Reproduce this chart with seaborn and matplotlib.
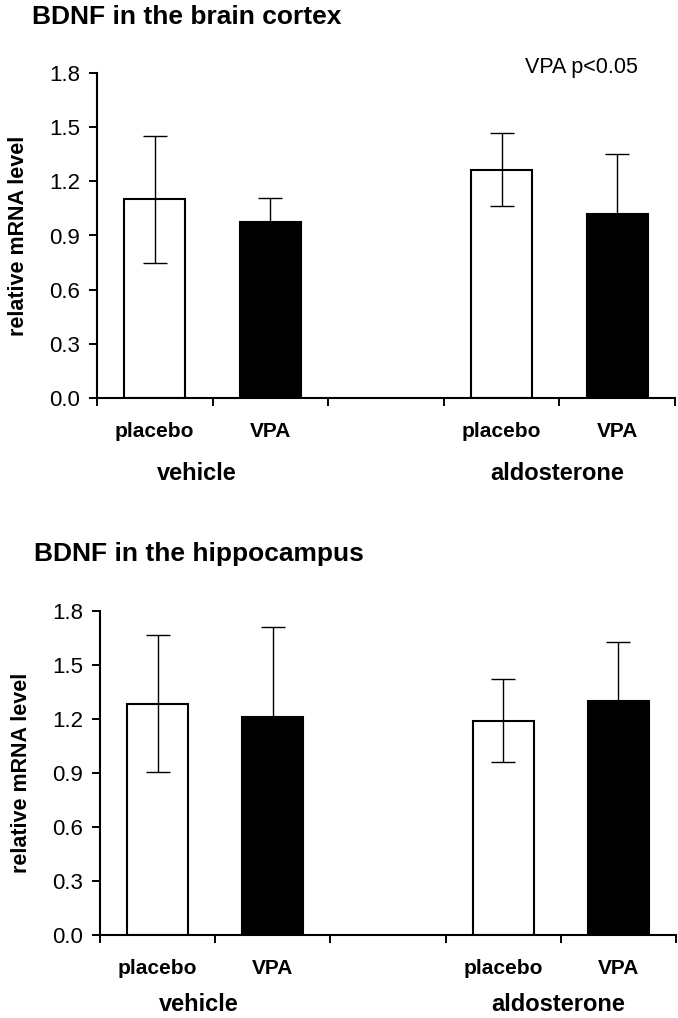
import matplotlib
matplotlib.use("Agg")
import matplotlib.pyplot as plt
import seaborn as sns
import pandas as pd

# ---- data ----
conditions = ["vehicle_placebo", "vehicle_VPA", "gap", "aldosterone_placebo", "aldosterone_VPA"]
tick_labels = ["placebo", "VPA", "", "placebo", "VPA"]
bar_conditions = ["vehicle_placebo", "vehicle_VPA", "aldosterone_placebo", "aldosterone_VPA"]
bar_colors = ["white", "black", "white", "black"]
group_labels = ["vehicle", "aldosterone"]
group_positions = [0.36, 3.48]

cortex_mean = [1.10, 0.975, 1.265, 1.02]
cortex_err = [0.35, 0.13, 0.20, 0.33]
hippo_mean = [1.285, 1.21, 1.19, 1.30]
hippo_err = [0.38, 0.50, 0.23, 0.33]

yticks = [0.0, 0.3, 0.6, 0.9, 1.2, 1.5, 1.8]
titles = ["BDNF in the brain cortex", "BDNF in the hippocampus"]
ylabel = "relative mRNA level"
annotation = "VPA p<0.05"

# ---- style ----
sns.set_theme(style="ticks")
plt.rcParams["font.family"] = ["Liberation Sans", "DejaVu Sans"]
plt.rcParams["text.color"] = "black"
plt.rcParams["axes.labelcolor"] = "black"
plt.rcParams["xtick.color"] = "black"
plt.rcParams["ytick.color"] = "black"

W, H = 678, 1018
fig = plt.figure(figsize=(W / 100, H / 100), dpi=100)


def px_axes(x0, x1, ytop, ybot):
    return fig.add_axes([x0 / W, 1 - ybot / H, (x1 - x0) / W, (ybot - ytop) / H])


ax_top = px_axes(97, 675, 73, 398)
ax_bot = px_axes(100, 676, 611, 935)

palette = dict(zip(bar_conditions, bar_colors))


def draw_panel(ax, means, errs, group_offset):
    df = pd.DataFrame({"cond": bar_conditions, "value": means})
    sns.barplot(data=df, x="cond", y="value", order=conditions, hue="cond",
                palette=palette, width=0.53, edgecolor="black", linewidth=1.5,
                saturation=1, legend=False, errorbar=None, ax=ax)
    pos = [conditions.index(c) for c in bar_conditions]
    ax.errorbar(pos, means, yerr=errs, fmt="none", ecolor="black",
                elinewidth=1.0, capsize=8.5, capthick=1.0, zorder=5)
    ax.set_xlim(-0.5, len(conditions) - 0.5)
    ax.set_ylim(0, 1.8)
    ax.set_yticks(yticks)
    ax.set_yticklabels([f"{v:.1f}" for v in yticks])
    ax.set_xticks(range(len(conditions)))
    ax.set_xticklabels(tick_labels, fontsize=15, fontweight="bold")
    ax.set_xticks([i - 0.5 for i in range(len(conditions) + 1)], minor=True)
    ax.tick_params(axis="x", which="major", length=0, pad=17)
    ax.tick_params(axis="x", which="minor", length=6, width=1.4, direction="out")
    ax.tick_params(axis="y", length=6, width=1.4, direction="out", labelsize=16, pad=6)
    for s in ["top", "right"]:
        ax.spines[s].set_visible(False)
    for s in ["left", "bottom"]:
        ax.spines[s].set_linewidth(1.5)
        ax.spines[s].set_color("black")
    ax.set_xlabel("")
    ax.set_ylabel(ylabel, fontsize=15.5, fontweight="bold")
    ax.yaxis.set_label_coords(-0.118, 0.5)
    for lab, gx in zip(group_labels, group_positions):
        ax.annotate(lab, xy=(gx, 0), xycoords=("data", "axes fraction"),
                    xytext=(0, group_offset), textcoords="offset points",
                    ha="center", va="baseline", fontsize=17, fontweight="bold")


draw_panel(ax_top, cortex_mean, cortex_err, -59)
draw_panel(ax_bot, hippo_mean, hippo_err, -55)

ax_top.text(0.936, 1.018, annotation, transform=ax_top.transAxes,
            ha="right", va="center", fontsize=15.5)

fig.text(32 / W, 1 - 24 / H, titles[0], ha="left", va="baseline",
         fontsize=19, fontweight="bold")
fig.text(34 / W, 1 - 561 / H, titles[1], ha="left", va="baseline",
         fontsize=19, fontweight="bold")

fig.savefig("out.png", dpi=100, facecolor="white")
